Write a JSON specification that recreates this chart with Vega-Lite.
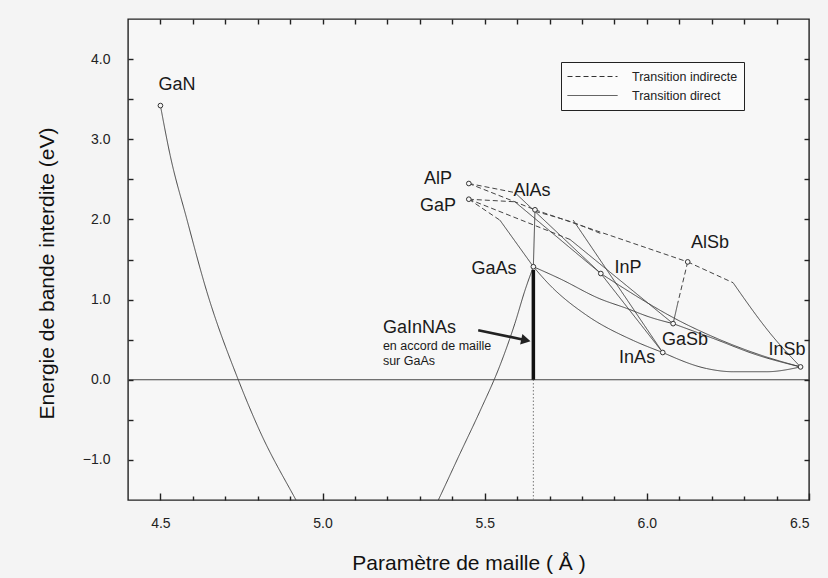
{
  "$schema": "https://vega.github.io/schema/vega-lite/v6.json",
  "width": 681,
  "height": 481,
  "autosize": {"type": "none"},
  "padding": {"left": 128, "top": 19, "right": 19, "bottom": 78},
  "background": "#f4f4f4",
  "config": {
    "view": {"stroke": "#222", "strokeWidth": 1.4, "fill": "#f7f7f7"},
    "font": "Liberation Sans",
    "axis": {"domain": false, "grid": false, "ticks": true, "tickColor": "#222", "tickOpacity": 1, "tickWidth": 1.4, "zindex": 1, "labelColor": "#222", "labelFont": "Liberation Sans", "labelFontSize": 14, "titleFont": "Liberation Sans", "titleFontWeight": "normal", "titleColor": "#111", "titleFontSize": 21}
  },
  "datasets": {
    "lines": [
      {"seg": "L1", "type": "Transition direct", "o": 1, "x": 4.5, "y": 3.42},
      {"seg": "L1", "type": "Transition direct", "o": 2, "x": 4.53, "y": 2.8},
      {"seg": "L1", "type": "Transition direct", "o": 3, "x": 4.581, "y": 2.01},
      {"seg": "L1", "type": "Transition direct", "o": 4, "x": 4.643, "y": 1.1},
      {"seg": "L1", "type": "Transition direct", "o": 5, "x": 4.74, "y": 0.0},
      {"seg": "L1", "type": "Transition direct", "o": 6, "x": 4.807, "y": -0.645},
      {"seg": "L1", "type": "Transition direct", "o": 7, "x": 4.918, "y": -1.5},
      {"seg": "L1", "type": "Transition direct", "o": 8, "x": 4.992, "y": -2.04},
      {"seg": "L1", "type": "Transition direct", "o": 9, "x": 5.069, "y": -2.29},
      {"seg": "L1", "type": "Transition direct", "o": 10, "x": 5.137, "y": -2.38},
      {"seg": "L1", "type": "Transition direct", "o": 11, "x": 5.208, "y": -2.3},
      {"seg": "L1", "type": "Transition direct", "o": 12, "x": 5.285, "y": -2.1},
      {"seg": "L1", "type": "Transition direct", "o": 13, "x": 5.357, "y": -1.5},
      {"seg": "L1", "type": "Transition direct", "o": 14, "x": 5.424, "y": -0.919},
      {"seg": "L1", "type": "Transition direct", "o": 15, "x": 5.485, "y": -0.395},
      {"seg": "L1", "type": "Transition direct", "o": 16, "x": 5.547, "y": 0.178},
      {"seg": "L1", "type": "Transition direct", "o": 17, "x": 5.593, "y": 0.702},
      {"seg": "L1", "type": "Transition direct", "o": 18, "x": 5.624, "y": 1.113},
      {"seg": "L1", "type": "Transition direct", "o": 19, "x": 5.65, "y": 1.41},
      {"seg": "L2a", "type": "Transition indirecte", "o": 1, "x": 5.451, "y": 2.448},
      {"seg": "L2a", "type": "Transition indirecte", "o": 2, "x": 5.593, "y": 2.335},
      {"seg": "L2b", "type": "Transition direct", "o": 1, "x": 5.593, "y": 2.335},
      {"seg": "L2b", "type": "Transition direct", "o": 2, "x": 5.858, "y": 1.325},
      {"seg": "L3a", "type": "Transition indirecte", "o": 1, "x": 5.451, "y": 2.252},
      {"seg": "L3a", "type": "Transition indirecte", "o": 2, "x": 5.593, "y": 2.22},
      {"seg": "L3b", "type": "Transition direct", "o": 1, "x": 5.593, "y": 2.22},
      {"seg": "L3b", "type": "Transition direct", "o": 2, "x": 5.858, "y": 1.325},
      {"seg": "L4a", "type": "Transition indirecte", "o": 1, "x": 5.451, "y": 2.252},
      {"seg": "L4a", "type": "Transition indirecte", "o": 2, "x": 5.547, "y": 1.99},
      {"seg": "L4b", "type": "Transition direct", "o": 1, "x": 5.547, "y": 1.99},
      {"seg": "L4b", "type": "Transition direct", "o": 2, "x": 5.65, "y": 1.41},
      {"seg": "L5", "type": "Transition indirecte", "o": 1, "x": 5.451, "y": 2.448},
      {"seg": "L5", "type": "Transition indirecte", "o": 2, "x": 5.655, "y": 2.12},
      {"seg": "L6", "type": "Transition indirecte", "o": 1, "x": 5.655, "y": 2.12},
      {"seg": "L6", "type": "Transition indirecte", "o": 2, "x": 6.126, "y": 1.47},
      {"seg": "L7a", "type": "Transition indirecte", "o": 1, "x": 5.655, "y": 2.1},
      {"seg": "L7a", "type": "Transition indirecte", "o": 2, "x": 5.773, "y": 1.96},
      {"seg": "L7a", "type": "Transition indirecte", "o": 3, "x": 5.86, "y": 1.82},
      {"seg": "L7b", "type": "Transition direct", "o": 1, "x": 5.773, "y": 1.99},
      {"seg": "L7b", "type": "Transition direct", "o": 2, "x": 6.049, "y": 0.34},
      {"seg": "L8a", "type": "Transition indirecte", "o": 1, "x": 5.451, "y": 2.252},
      {"seg": "L8a", "type": "Transition indirecte", "o": 2, "x": 5.763, "y": 1.75},
      {"seg": "L8b", "type": "Transition direct", "o": 1, "x": 5.763, "y": 1.75},
      {"seg": "L8b", "type": "Transition direct", "o": 2, "x": 6.081, "y": 0.7},
      {"seg": "L9", "type": "Transition direct", "o": 1, "x": 5.655, "y": 2.12},
      {"seg": "L9", "type": "Transition direct", "o": 2, "x": 5.65, "y": 1.41},
      {"seg": "L10", "type": "Transition direct", "o": 1, "x": 5.65, "y": 1.41},
      {"seg": "L10", "type": "Transition direct", "o": 2, "x": 5.732, "y": 1.26},
      {"seg": "L10", "type": "Transition direct", "o": 3, "x": 5.855, "y": 1.01},
      {"seg": "L10", "type": "Transition direct", "o": 4, "x": 5.938, "y": 0.89},
      {"seg": "L10", "type": "Transition direct", "o": 5, "x": 6.01, "y": 0.78},
      {"seg": "L10", "type": "Transition direct", "o": 6, "x": 6.081, "y": 0.7},
      {"seg": "L11", "type": "Transition direct", "o": 1, "x": 5.65, "y": 1.41},
      {"seg": "L11", "type": "Transition direct", "o": 2, "x": 5.701, "y": 1.18},
      {"seg": "L11", "type": "Transition direct", "o": 3, "x": 5.814, "y": 0.805},
      {"seg": "L11", "type": "Transition direct", "o": 4, "x": 5.958, "y": 0.49},
      {"seg": "L11", "type": "Transition direct", "o": 5, "x": 6.049, "y": 0.34},
      {"seg": "L12", "type": "Transition direct", "o": 1, "x": 6.049, "y": 0.34},
      {"seg": "L12", "type": "Transition direct", "o": 2, "x": 6.184, "y": 0.14},
      {"seg": "L12", "type": "Transition direct", "o": 3, "x": 6.266, "y": 0.1},
      {"seg": "L12", "type": "Transition direct", "o": 4, "x": 6.369, "y": 0.1},
      {"seg": "L12", "type": "Transition direct", "o": 5, "x": 6.474, "y": 0.16},
      {"seg": "L13", "type": "Transition direct", "o": 1, "x": 6.081, "y": 0.7},
      {"seg": "L13", "type": "Transition direct", "o": 2, "x": 6.205, "y": 0.515},
      {"seg": "L13", "type": "Transition direct", "o": 3, "x": 6.339, "y": 0.31},
      {"seg": "L13", "type": "Transition direct", "o": 4, "x": 6.474, "y": 0.16},
      {"seg": "L14", "type": "Transition direct", "o": 1, "x": 5.858, "y": 1.325},
      {"seg": "L14", "type": "Transition direct", "o": 2, "x": 6.127, "y": 0.68},
      {"seg": "L14", "type": "Transition direct", "o": 3, "x": 6.225, "y": 0.5},
      {"seg": "L14", "type": "Transition direct", "o": 4, "x": 6.349, "y": 0.31},
      {"seg": "L14", "type": "Transition direct", "o": 5, "x": 6.474, "y": 0.16},
      {"seg": "L15", "type": "Transition direct", "o": 1, "x": 5.858, "y": 1.325},
      {"seg": "L15", "type": "Transition direct", "o": 2, "x": 6.049, "y": 0.34},
      {"seg": "L16a", "type": "Transition indirecte", "o": 1, "x": 6.126, "y": 1.47},
      {"seg": "L16a", "type": "Transition indirecte", "o": 2, "x": 6.095, "y": 0.95},
      {"seg": "L16b", "type": "Transition direct", "o": 1, "x": 6.095, "y": 0.95},
      {"seg": "L16b", "type": "Transition direct", "o": 2, "x": 6.081, "y": 0.7},
      {"seg": "L17a", "type": "Transition indirecte", "o": 1, "x": 6.126, "y": 1.47},
      {"seg": "L17a", "type": "Transition indirecte", "o": 2, "x": 6.266, "y": 1.21},
      {"seg": "L17b", "type": "Transition direct", "o": 1, "x": 6.266, "y": 1.21},
      {"seg": "L17b", "type": "Transition direct", "o": 2, "x": 6.385, "y": 0.556},
      {"seg": "L17b", "type": "Transition direct", "o": 3, "x": 6.474, "y": 0.16}
    ],
    "points": [
      {"name": "GaN", "x": 4.5, "y": 3.42},
      {"name": "AlP", "x": 5.451, "y": 2.448},
      {"name": "GaP", "x": 5.451, "y": 2.252},
      {"name": "AlAs", "x": 5.655, "y": 2.12},
      {"name": "GaAs", "x": 5.65, "y": 1.41},
      {"name": "InP", "x": 5.858, "y": 1.325},
      {"name": "AlSb", "x": 6.126, "y": 1.47},
      {"name": "GaSb", "x": 6.081, "y": 0.7},
      {"name": "InAs", "x": 6.049, "y": 0.34},
      {"name": "InSb", "x": 6.474, "y": 0.16}
    ],
    "labels": [
      {"name": "GaN", "x": 4.551, "y": 3.68},
      {"name": "AlP", "x": 5.356, "y": 2.51},
      {"name": "GaP", "x": 5.356, "y": 2.17},
      {"name": "AlAs", "x": 5.646, "y": 2.35},
      {"name": "GaAs", "x": 5.529, "y": 1.38},
      {"name": "InP", "x": 5.942, "y": 1.39},
      {"name": "AlSb", "x": 6.195, "y": 1.7},
      {"name": "GaSb", "x": 6.118, "y": 0.49},
      {"name": "InAs", "x": 5.97, "y": 0.27},
      {"name": "InSb", "x": 6.432, "y": 0.37}
    ],
    "note_big": [{"text": "GaInNAs", "x": 5.186, "y": 0.65}],
    "note_small": [
      {"text": "en accord de maille", "x": 5.186, "y": 0.42},
      {"text": "sur GaAs", "x": 5.186, "y": 0.24}
    ],
    "arrow": [
      {"o": 1, "x": 5.48, "y": 0.618},
      {"o": 2, "x": 5.62, "y": 0.5}
    ],
    "arrowhead": [{"x": 5.627, "y": 0.493}],
    "bar": [{"x": 5.65, "y": 0, "y2": 1.37}],
    "dotted": [{"x": 5.65, "y": -1.5, "y2": 0}],
    "zero": [{"y": 0}]
  },
  "layer": [
    {
      "data": {"name": "zero"},
      "mark": {"type": "rule", "color": "#444", "strokeWidth": 1.2},
      "encoding": {
        "y": {"field": "y", "type": "quantitative", "scale": {"domain": [-1.5, 4.5], "nice": false, "zero": false},
          "axis": {"orient": "right", "values": [-1, -0.5, 0, 0.5, 1, 1.5, 2, 2.5, 3, 3.5, 4], "labels": false, "ticks": true, "tickSize": 5, "offset": -5, "title": null, "zindex": 2}}
      }
    },
    {
      "data": {"name": "lines"},
      "mark": {"type": "line", "interpolate": "monotone", "clip": true, "color": "#444", "strokeWidth": 1},
      "encoding": {
        "x": {"field": "x", "type": "quantitative", "scale": {"domain": [4.4, 6.5], "nice": false, "zero": false},
          "axis": {"orient": "bottom", "values": [4.5, 5, 5.5, 6, 6.5], "format": ".1f", "ticks": true, "tickSize": 7, "offset": -7, "labelPadding": 16, "title": "Paramètre de maille  ( Å )", "titleY": 70, "titleBaseline": "middle", "zindex": 2}},
        "y": {"field": "y", "type": "quantitative", "scale": {"domain": [-1.5, 4.5], "nice": false, "zero": false},
          "axis": {"orient": "left", "values": [-1, -0.5, 0, 0.5, 1, 1.5, 2, 2.5, 3, 3.5, 4], "labelExpr": "datum.value % 1 === 0 ? format(datum.value, '.1f') : ''", "ticks": true, "tickSize": 5, "offset": -5, "labelPadding": 18, "title": "Energie de bande interdite  (eV)", "titleX": -86, "titleY": 254, "titleAngle": -90, "titleAlign": "center", "titleBaseline": "middle", "zindex": 2}},
        "detail": {"field": "seg"},
        "order": {"field": "o"},
        "strokeDash": {"field": "type", "type": "nominal",
          "scale": {"domain": ["Transition indirecte", "Transition direct"], "range": [[5, 3], [1, 0]]},
          "legend": {"title": null, "orient": "none", "legendX": 433, "legendY": 43, "strokeColor": "#222", "fillColor": "#fbfbfb", "padding": 6, "symbolType": "stroke", "symbolSize": 2500, "symbolStrokeWidth": 1, "symbolStrokeColor": "#333", "labelFontSize": 12.5, "labelFont": "Liberation Sans", "labelColor": "#222", "labelOffset": 14, "clipHeight": 17, "rowPadding": 2}}
      }
    },
    {
      "data": {"name": "dotted"},
      "mark": {"type": "rule", "color": "#777", "strokeWidth": 1, "strokeDash": [1.5, 2]},
      "encoding": {
        "x": {"field": "x", "type": "quantitative", "axis": {"orient": "bottom", "values": [4.6, 4.7, 4.8, 4.9, 5.1, 5.2, 5.3, 5.4, 5.6, 5.7, 5.8, 5.9, 6.1, 6.2, 6.3, 6.4], "labels": false, "ticks": true, "tickSize": 4, "offset": -4, "title": null, "zindex": 2}},
        "y": {"field": "y", "type": "quantitative", "axis": null},
        "y2": {"field": "y2"}
      }
    },
    {
      "data": {"name": "bar"},
      "mark": {"type": "rule", "color": "#111", "strokeWidth": 3.5},
      "encoding": {
        "x": {"field": "x", "type": "quantitative", "axis": {"orient": "top", "values": [4.5, 4.6, 4.7, 4.8, 4.9, 5, 5.1, 5.2, 5.3, 5.4, 5.5, 5.6, 5.7, 5.8, 5.9, 6, 6.1, 6.2, 6.3, 6.4], "labels": false, "ticks": true, "tickSize": 5, "offset": -5, "title": null, "zindex": 2}},
        "y": {"field": "y", "type": "quantitative", "axis": null},
        "y2": {"field": "y2"}
      }
    },
    {
      "data": {"name": "arrow"},
      "mark": {"type": "line", "color": "#222", "strokeWidth": 2.6},
      "encoding": {
        "x": {"field": "x", "type": "quantitative", "axis": null},
        "y": {"field": "y", "type": "quantitative", "axis": null},
        "order": {"field": "o"}
      }
    },
    {
      "data": {"name": "arrowhead"},
      "mark": {"type": "point", "shape": "triangle-right", "filled": true, "color": "#222", "opacity": 1, "size": 120, "angle": 12},
      "encoding": {
        "x": {"field": "x", "type": "quantitative", "axis": null},
        "y": {"field": "y", "type": "quantitative", "axis": null}
      }
    },
    {
      "data": {"name": "points"},
      "mark": {"type": "point", "shape": "circle", "filled": true, "fill": "#f7f7f7", "stroke": "#333", "strokeWidth": 1, "size": 22, "opacity": 1},
      "encoding": {
        "x": {"field": "x", "type": "quantitative", "axis": null},
        "y": {"field": "y", "type": "quantitative", "axis": null}
      }
    },
    {
      "data": {"name": "labels"},
      "mark": {"type": "text", "font": "Liberation Sans", "fontSize": 18, "color": "#1a1a1a", "align": "center", "baseline": "middle"},
      "encoding": {
        "x": {"field": "x", "type": "quantitative", "axis": null},
        "y": {"field": "y", "type": "quantitative", "axis": null},
        "text": {"field": "name"}
      }
    },
    {
      "data": {"name": "note_big"},
      "mark": {"type": "text", "font": "Liberation Sans", "fontSize": 18, "color": "#1a1a1a", "align": "left", "baseline": "middle"},
      "encoding": {
        "x": {"field": "x", "type": "quantitative", "axis": null},
        "y": {"field": "y", "type": "quantitative", "axis": null},
        "text": {"field": "text"}
      }
    },
    {
      "data": {"name": "note_small"},
      "mark": {"type": "text", "font": "Liberation Sans", "fontSize": 12.5, "color": "#1a1a1a", "align": "left", "baseline": "middle"},
      "encoding": {
        "x": {"field": "x", "type": "quantitative", "axis": null},
        "y": {"field": "y", "type": "quantitative", "axis": null},
        "text": {"field": "text"}
      }
    }
  ],
  "resolve": {"axis": {"x": "independent", "y": "independent"}}
}
